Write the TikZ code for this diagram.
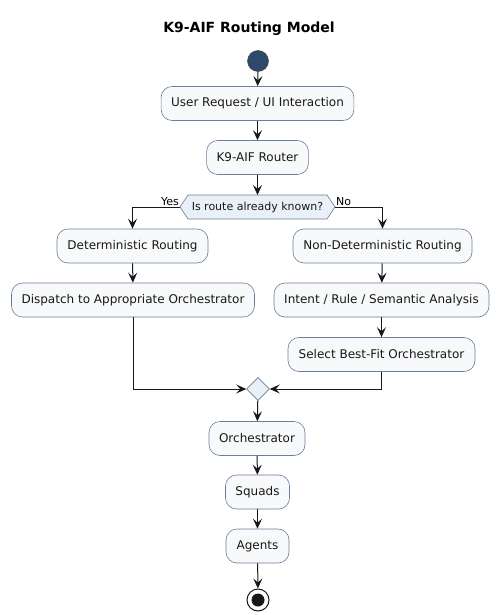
\documentclass[tikz,border=0pt]{standalone}
\usepackage{fontspec}
\setmainfont{DejaVu Sans}
\usetikzlibrary{arrows.meta,shapes.geometric,shapes.misc}
\definecolor{boxfill}{HTML}{F8F9FA}
\definecolor{boxdraw}{HTML}{6A7D99}
\definecolor{startfill}{HTML}{2E4A6B}
\definecolor{decfill}{HTML}{E9F0F8}
\definecolor{linecol}{HTML}{181818}
\tikzset{
  act/.style={draw=boxdraw, fill=boxfill, rounded corners=11pt, line width=0.6pt,
    minimum height=34pt, inner xsep=10pt, font=\fontsize{12}{14}\selectfont, text=linecol},
  flow/.style={draw=linecol, line width=1pt, -{Stealth[length=10pt,width=9pt,inset=4pt]}},
  plain/.style={draw=linecol, line width=1pt},
  lbl/.style={font=\fontsize{11}{13}\selectfont, text=black, inner sep=1pt}
}
\begin{document}
\begin{tikzpicture}[x=1pt,y=-1pt]
\useasboundingbox (0,0) rectangle (499,615);
\node[font=\bfseries\fontsize{14}{16}\selectfont] (title) at (249,29) {K9-AIF Routing Model};
\node[circle, fill=startfill, draw=linecol!80, line width=0.5pt, minimum size=21pt, inner sep=0pt] (start) at (258,61) {};
\node[act] (req) at (257.5,103.5) {User Request / UI Interaction};
\node[act] (router) at (257.5,157.5) {K9-AIF Router};
\draw[draw=boxdraw, fill=decfill, line width=0.6pt] (180,207) -- (188,195) -- (327,195) -- (335,207) -- (327,219) -- (188,219) -- cycle;
\node[font=\fontsize{11}{13}\selectfont, text=linecol] (dec) at (257.5,207) {Is route already known?};
\coordinate (decL) at (180,207);
\coordinate (decR) at (335,207);
\coordinate (decT) at (257.5,195);
\node[act, minimum width=151pt] (det) at (132.5,246) {Deterministic Routing};
\node[act, minimum width=242pt] (disp) at (133,300) {Dispatch to Appropriate Orchestrator};
\node[act, minimum width=179pt] (nondet) at (382.5,246) {Non-Deterministic Routing};
\node[act, minimum width=215pt] (intent) at (381.5,300) {Intent / Rule / Semantic Analysis};
\node[act, minimum width=187pt] (select) at (381.5,354.5) {Select Best-Fit Orchestrator};
\node[diamond, draw=boxdraw, fill=decfill, line width=0.6pt, minimum width=23pt, minimum height=23pt, inner sep=0pt] (merge) at (258,389) {};
\node[act, minimum width=96pt] (orch) at (257,438.5) {Orchestrator};
\node[act, minimum width=63pt] (squads) at (257.5,492) {Squads};
\node[act, minimum width=63pt] (agents) at (257.5,546) {Agents};
\node[circle, draw=linecol, line width=1pt, fill=white, minimum size=22pt, inner sep=0pt] (end) at (258,600) {};
\fill[linecol] (end.center) circle (6.5pt);

\draw[flow] (start) -- (req);
\draw[flow] (req) -- (router);
\draw[flow] (router) -- (decT);
\draw[flow] (decL) -- (det.north |- decL) -- (det.north);
\draw[flow] (decR) -- (nondet.north |- decR) -- (nondet.north);
\node[lbl, anchor=south east] (yes) at (decL) {Yes};
\node[lbl, anchor=south west] (no) at (decR) {No};
\draw[flow] (det) -- (disp);
\draw[flow] (nondet) -- (intent);
\draw[flow] (intent) -- (select);
\draw[flow] (disp.south) -- (disp.south |- merge) -- (merge.west);
\draw[flow] (select.south) -- (select.south |- merge) -- (merge.east);
\draw[flow] (merge) -- (orch);
\draw[flow] (orch) -- (squads);
\draw[flow] (squads) -- (agents);
\draw[flow] (agents) -- (end);
\end{tikzpicture}
\end{document}
